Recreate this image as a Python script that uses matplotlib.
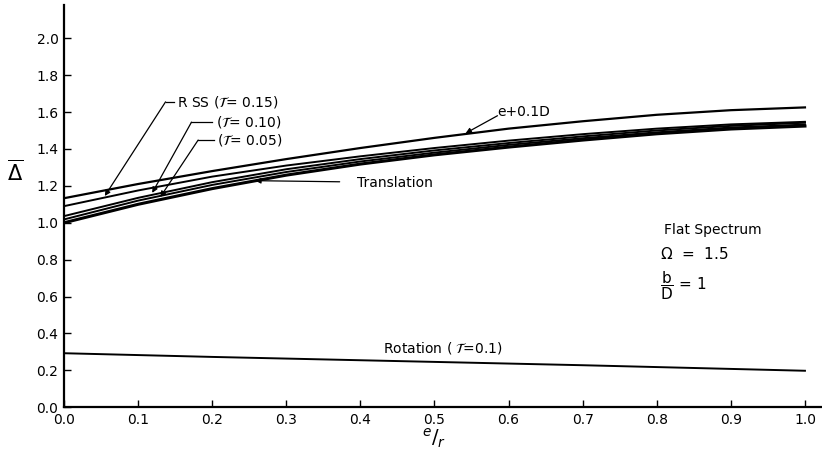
import matplotlib
matplotlib.use("Agg")
import matplotlib.pyplot as plt
import numpy as np

# values at e/r = 0.0, 0.1, ... 1.0
e_r = np.round(np.arange(0, 1.01, 0.1), 1)
e_01d = [1.133, 1.210, 1.280, 1.345, 1.405, 1.460, 1.510, 1.550, 1.585, 1.610, 1.625]
rss_015 = [1.090, 1.175, 1.250, 1.310, 1.360, 1.405, 1.445, 1.480, 1.510, 1.533, 1.547]
rss_010 = [1.036, 1.135, 1.220, 1.290, 1.345, 1.392, 1.432, 1.468, 1.500, 1.525, 1.542]
rss_005 = [1.018, 1.120, 1.205, 1.275, 1.332, 1.380, 1.422, 1.458, 1.490, 1.516, 1.532]
translation = [1.000, 1.100, 1.185, 1.258, 1.318, 1.368, 1.410, 1.448, 1.482, 1.508, 1.524]
rotation = [0.293, 0.283, 0.273, 0.264, 0.255, 0.246, 0.237, 0.228, 0.218, 0.208, 0.198]

xticks = np.round(np.arange(0, 1.01, 0.1), 1)
yticks = np.round(np.arange(0, 2.01, 0.2), 1)

plt.rcParams['font.family'] = ['DejaVu Sans']
plt.rcParams['mathtext.fontset'] = 'dejavusans'

fig = plt.figure(figsize=(8.22, 4.62), dpi=100)
ax = fig.add_axes([0.0779, 0.1184, 0.9221, 0.8708])

ax.plot(e_r, e_01d, color='black', lw=1.6)
ax.plot(e_r, rss_015, color='black', lw=1.4)
ax.plot(e_r, rss_010, color='black', lw=1.4)
ax.plot(e_r, rss_005, color='black', lw=1.4)
ax.plot(e_r, translation, color='black', lw=2.2)
ax.plot(e_r, rotation, color='black', lw=1.4)

ax.set_xlim(0, 1.023)
ax.set_ylim(0, 2.18)
ax.set_xticks(xticks)
ax.set_yticks(yticks)
ax.set_xticklabels([f"{v:.1f}" for v in xticks])
ax.set_yticklabels([f"{v:.1f}" for v in yticks])
ax.tick_params(direction='in', length=5, width=1, labelsize=10, pad=4)
for s in ['top', 'right']:
    ax.spines[s].set_visible(False)
for s in ['left', 'bottom']:
    ax.spines[s].set_linewidth(1.6)

ax.text(-0.066, 1.275, r'$\overline{\Delta}$', fontsize=15, ha='center', va='center')
ax.text(0.5, -0.17, r'$^{e}/_{r}$', fontsize=14, ha='center', va='center')

arr = dict(arrowstyle='-|>', lw=0.9, color='black', mutation_scale=8,
           shrinkA=0, shrinkB=0)
T = r'$\mathcal{T}$'
# RSS labels with bent leaders
ax.text(0.153, 1.655, f'R SS ({T}= 0.15)', fontsize=10, ha='left', va='center')
ax.plot([0.148, 0.137], [1.655, 1.655], color='black', lw=0.9)
ax.annotate('', xy=(0.055, 1.145), xytext=(0.137, 1.655), arrowprops=arr)

ax.text(0.205, 1.545, f'({T}= 0.10)', fontsize=10, ha='left', va='center')
ax.plot([0.200, 0.172], [1.545, 1.545], color='black', lw=0.9)
ax.annotate('', xy=(0.119, 1.162), xytext=(0.172, 1.545), arrowprops=arr)

ax.text(0.207, 1.448, f'({T}= 0.05)', fontsize=10, ha='left', va='center')
ax.plot([0.202, 0.181], [1.448, 1.448], color='black', lw=0.9)
ax.annotate('', xy=(0.130, 1.14), xytext=(0.181, 1.448), arrowprops=arr)

ax.text(0.585, 1.60, 'e+0.1D', fontsize=10, ha='left', va='center')
ax.annotate('', xy=(0.542, 1.485), xytext=(0.585, 1.58), arrowprops=arr)

ax.text(0.395, 1.215, 'Translation', fontsize=10, ha='left', va='center')
ax.annotate('', xy=(0.258, 1.228), xytext=(0.372, 1.222), arrowprops=arr)

ax.text(0.81, 0.96, 'Flat Spectrum', fontsize=10, ha='left', va='center')
ax.text(0.805, 0.83, r'$\Omega$  =  1.5', fontsize=11, ha='left', va='center')
ax.text(0.805, 0.66, r'$\dfrac{\mathrm{b}}{\mathrm{D}}$ = 1', fontsize=11, ha='left', va='center')

ax.text(0.43, 0.32, f'Rotation ( {T}=0.1)', fontsize=10, ha='left', va='center')

fig.savefig('out.png', dpi=100)
